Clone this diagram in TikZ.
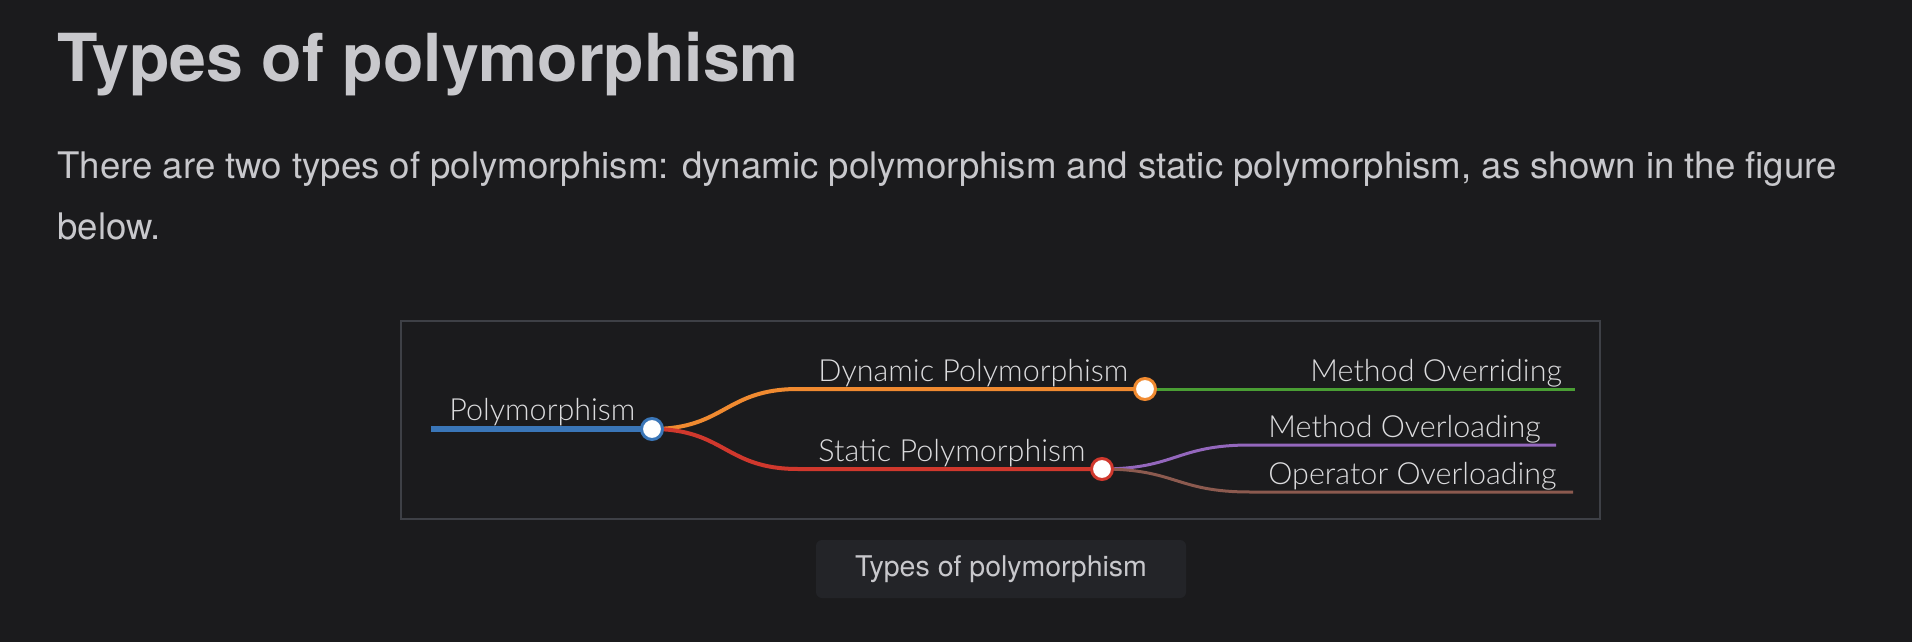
\documentclass[tikz,border=0pt]{standalone}
\usepackage{fontspec}
\setmainfont{TeX Gyre Heros}
\newfontfamily\mmfont{Lato Light}
\usepackage{tikz}
\usetikzlibrary{positioning,calc}
\definecolor{PageBg}{RGB}{27,27,29}
\definecolor{InkGrey}{RGB}{200,200,204}
\definecolor{FrameGrey}{RGB}{62,64,70}
\definecolor{CapBg}{RGB}{35,36,40}
\definecolor{MapText}{RGB}{220,220,222}
\definecolor{RootBlue}{RGB}{58,118,184}
\definecolor{DynOrange}{RGB}{240,138,48}
\definecolor{StatRed}{RGB}{208,56,45}
\definecolor{OvrGreen}{RGB}{74,158,52}
\definecolor{OvlPurple}{RGB}{148,103,189}
\definecolor{OpBrown}{RGB}{140,90,79}
\tikzset{
  heading/.style={anchor=base west, inner sep=0pt, text=InkGrey,
    font=\fontsize{33.1}{40}\selectfont\bfseries},
  para/.style={anchor=base west, inner sep=0pt, text=InkGrey,
    font=\fontsize{18.3}{30}\selectfont},
  maplabel/.style={anchor=base west, inner sep=0pt, text=MapText,
    font=\mmfont\fontsize{15.25}{18}\selectfont},
  mapdot/.style={circle, draw=#1, fill=white, line width=1.5pt,
    minimum size=10.5pt, inner sep=0pt},
  branch/.style={draw=#1, line width=2pt},
  twig/.style={draw=#1, line width=1.5pt},
  capbox/.style={rectangle, rounded corners=3pt, fill=CapBg,
    minimum width=185pt, minimum height=29pt, text=InkGrey,
    font=\fontsize{14.25}{17}\selectfont}
}

\begin{document}
\begin{tikzpicture}[x=0.5pt, y=-0.5pt]
  \fill[PageBg] (0,0) rectangle (1912,642);
  \node[heading] (title) at (57,82) {Types of polymorphism};
  \node[para] (line1) at (57,178) {There are two types of polymorphism: dynamic polymorphism and static polymorphism, as shown in the figure};
  \node[para] (line2) at (57,239) {below.};
  \draw[FrameGrey, line width=1pt] (401,321) rectangle (1600,519);
  \coordinate (rootstart) at (431,429);
  \coordinate (root) at (652,429);
  \coordinate (dynbend) at (798,389);
  \coordinate (dyn) at (1145,389);
  \coordinate (statbend) at (798,469);
  \coordinate (stat) at (1102,469);
  \coordinate (ovrend) at (1575,389);
  \coordinate (ovlbend) at (1250,445);
  \coordinate (ovlend) at (1556,445);
  \coordinate (opbend) at (1250,492);
  \coordinate (opend) at (1573,492);
  \draw[RootBlue, line width=3pt] (rootstart) -- (root);
  \draw[branch=DynOrange] (root) .. controls ($(root)+(73,0)$) and ($(dynbend)-(73,0)$) .. (dynbend) -- (dyn);
  \draw[branch=StatRed] (root) .. controls ($(root)+(73,0)$) and ($(statbend)-(73,0)$) .. (statbend) -- (stat);
  \draw[twig=OvrGreen] (dyn) -- (ovrend);
  \draw[twig=OvlPurple] (stat) .. controls ($(stat)+(74,0)$) and ($(ovlbend)-(74,0)$) .. (ovlbend) -- (ovlend);
  \draw[twig=OpBrown] (stat) .. controls ($(stat)+(74,0)$) and ($(opbend)-(74,0)$) .. (opbend) -- (opend);
  \node[mapdot=RootBlue] (rootdot) at (root) {};
  \node[mapdot=DynOrange] (dyndot) at (dyn) {};
  \node[mapdot=StatRed] (statdot) at (stat) {};
  \node[maplabel] (rootlbl) at (449,420) {Polymorphism};
  \node[maplabel] (dynlbl) at (818,381) {Dynamic Polymorphism};
  \node[maplabel] (statlbl) at (818,461) {Static Polymorphism};
  \node[maplabel] (ovrlbl) at (1310,381) {Method Overriding};
  \node[maplabel] (ovllbl) at (1268,437) {Method Overloading};
  \node[maplabel] (oplbl) at (1268,484) {Operator Overloading};
  \node[capbox] (caption) at (1001,569) {Types of polymorphism};
\end{tikzpicture}
\end{document}
